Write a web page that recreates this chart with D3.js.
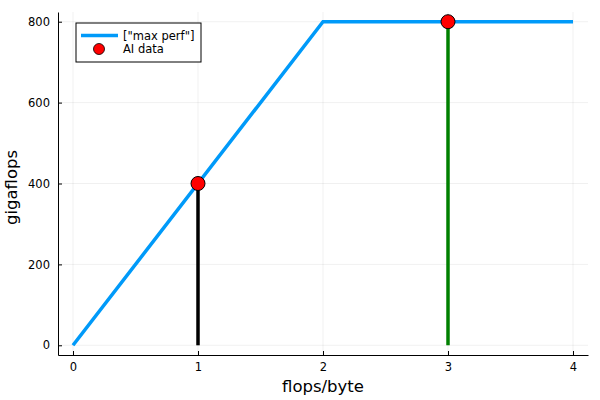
<!DOCTYPE html>
<html>
<head>
<meta charset="utf-8">
<script src="https://cdn.jsdelivr.net/npm/d3@7"></script>
<style>
  body { margin: 0; background: #fff; }
  text { font-family: "DejaVu Sans", sans-serif; }
</style>
</head>
<body>
<div id="chart"></div>
<script>
// roofline data
const perfX = [0, 2, 4];
const perfY = [0, 800, 800];
const aiX = [1, 3];
const aiY = [400, 800];
const aiColors = ["#000000", "#008000"];
const xTicks = [0, 1, 2, 3, 4];
const yTicks = [0, 200, 400, 600, 800];

const width = 600;
const height = 400;
const mLeft = 58, mRight = 588, mTop = 12, mBottom = 355;

const svg = d3.select("#chart").append("svg")
  .attr("width", width)
  .attr("height", height);

const x = d3.scaleLinear().domain([-0.12, 4.12]).range([mLeft, mRight]);
const y = d3.scaleLinear().domain([-24, 824]).range([mBottom, mTop]);

// grid
svg.append("g").selectAll("line")
  .data(xTicks)
  .join("line")
  .attr("x1", d => x(d)).attr("x2", d => x(d))
  .attr("y1", mTop).attr("y2", mBottom)
  .attr("stroke", "#000").attr("stroke-opacity", 0.1).attr("stroke-width", 0.6);

svg.append("g").selectAll("line")
  .data(yTicks)
  .join("line")
  .attr("x1", mLeft).attr("x2", mRight)
  .attr("y1", d => y(d)).attr("y2", d => y(d))
  .attr("stroke", "#000").attr("stroke-opacity", 0.1).attr("stroke-width", 0.6);

// axes (ticks inside)
const xAxis = svg.append("g")
  .attr("transform", `translate(0,${mBottom})`)
  .call(d3.axisBottom(x).tickValues(xTicks).tickSize(-4).tickSizeOuter(0).tickPadding(8).tickFormat(d3.format("d")));
const yAxis = svg.append("g")
  .attr("transform", `translate(${mLeft},0)`)
  .call(d3.axisLeft(y).tickValues(yTicks).tickSize(-4).tickSizeOuter(0).tickPadding(8).tickFormat(d3.format("d")));

[xAxis, yAxis].forEach(a => {
  a.select(".domain").attr("stroke", "#000").attr("stroke-width", 1);
  a.selectAll(".tick line").attr("stroke", "#000");
  a.selectAll(".tick text").attr("font-size", 11.5).attr("fill", "#000")
    .attr("font-family", "DejaVu Sans, sans-serif");
});

// roofline
const line = d3.line().x((d, i) => x(perfX[i])).y(d => y(d));
svg.append("path")
  .datum(perfY)
  .attr("d", line)
  .attr("fill", "none")
  .attr("stroke", "#009af9")
  .attr("stroke-width", 3.5);

// vertical lines from ai points
svg.append("g").selectAll("line")
  .data(aiX)
  .join("line")
  .attr("x1", d => x(d)).attr("x2", d => x(d))
  .attr("y1", y(0)).attr("y2", (d, i) => y(aiY[i]))
  .attr("stroke", (d, i) => aiColors[i])
  .attr("stroke-width", 3.5);

// markers
svg.append("g").selectAll("circle")
  .data(aiX)
  .join("circle")
  .attr("cx", d => x(d))
  .attr("cy", (d, i) => y(aiY[i]))
  .attr("r", 7)
  .attr("fill", "#ff0000")
  .attr("stroke", "#000")
  .attr("stroke-width", 1);

// axis labels
svg.append("text")
  .attr("x", (mLeft + mRight) / 2)
  .attr("y", 392)
  .attr("text-anchor", "middle")
  .attr("font-size", 16.5)
  .text("flops/byte");

svg.append("text")
  .attr("transform", `translate(17,187.5) rotate(-90)`)
  .attr("text-anchor", "middle")
  .attr("font-size", 16.5)
  .text("gigaflops");

// legend
const lg = svg.append("g").attr("transform", "translate(76,23)");
lg.append("rect")
  .attr("width", 125).attr("height", 39)
  .attr("fill", "#fff").attr("stroke", "#000").attr("stroke-width", 1);
lg.append("line")
  .attr("x1", 5).attr("x2", 42).attr("y1", 12.5).attr("y2", 12.5)
  .attr("stroke", "#009af9").attr("stroke-width", 3.5);
lg.append("circle")
  .attr("cx", 23).attr("cy", 26).attr("r", 5.5)
  .attr("fill", "#ff0000").attr("stroke", "#000").attr("stroke-width", 0.8);
lg.append("text").attr("x", 47).attr("y", 16.5).attr("font-size", 11.5).text('["max perf"]');
lg.append("text").attr("x", 47).attr("y", 30).attr("font-size", 11.5).text("AI data");
</script>
</body>
</html>
